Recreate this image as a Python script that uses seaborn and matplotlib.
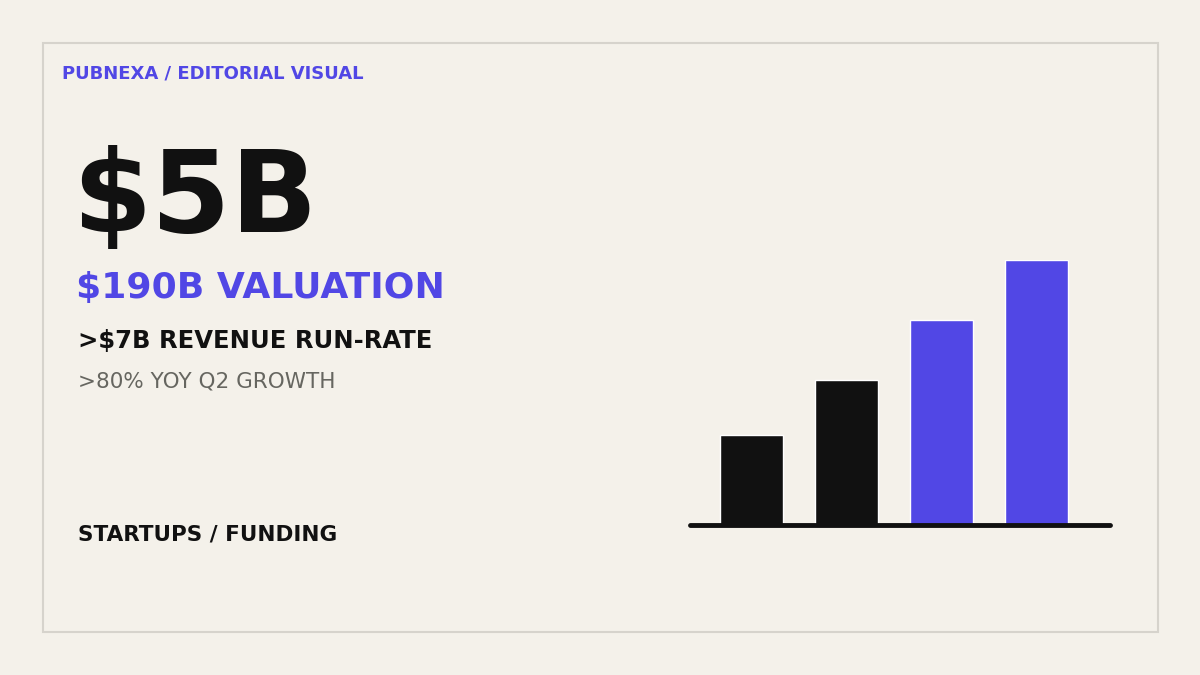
import matplotlib
matplotlib.use("Agg")
import matplotlib.pyplot as plt
import seaborn as sns
import pandas as pd
from matplotlib.patches import Rectangle

sns.set_theme(style="white")
plt.rcParams['font.family'] = ['DejaVu Sans']

categories = ["P1", "P2", "P3", "P4"]
values = [90, 145, 205, 265]
bar_colors = ["#111111", "#111111", "#5147E5", "#5147E5"]

BG = "#F4F1EA"; PURPLE = "#5147E5"; INK = "#111111"
W, H = 1200, 675
fig = plt.figure(figsize=(12, 6.75), dpi=100, facecolor=BG)
fig.patches.append(Rectangle((43/W, 1-632/H), (1158-43)/W, (632-43)/H, transform=fig.transFigure,
                             fill=False, edgecolor="#D6D3CC", linewidth=1.5))

def T(x, y, s, **kw):
    fig.text(x/W, 1-y/H, s, **kw)

T(62, 73, "PUBNEXA / EDITORIAL VISUAL", color=PURPLE, fontsize=13, fontweight="bold", va="center")
T(72, 201, "$5B", color=INK, fontsize=82, fontweight="bold", va="center")
T(76, 288, "$190B VALUATION", color=PURPLE, fontsize=26, fontweight="bold", va="center")
T(78, 341, ">$7B REVENUE RUN-RATE", color=INK, fontsize=17.5, fontweight="bold", va="center")
T(78, 382, ">80% YOY Q2 GROWTH", color="#666660", fontsize=15.5, va="center")
T(78, 535, "STARTUPS / FUNDING", color=INK, fontsize=15.5, fontweight="bold", va="center")

ax = fig.add_axes([690/W, 1-525/H, 420/W, 265/H])
ax.set_facecolor("none")
df = pd.DataFrame({"cat": categories, "val": values})
sns.barplot(data=df, x="cat", y="val", hue="cat", palette=bar_colors, legend=False,
            width=63/95, saturation=1, ax=ax)
ax.set_xlim(-61/95, 3 + 74/95)
ax.set_ylim(0, 265)
ax.axhline(0, color=INK, linewidth=3.5, clip_on=False)
for s in ax.spines.values():
    s.set_visible(False)
ax.set_xticks([]); ax.set_yticks([])
ax.set_xlabel(""); ax.set_ylabel("")

fig.savefig("out.png", dpi=100, facecolor=BG)
